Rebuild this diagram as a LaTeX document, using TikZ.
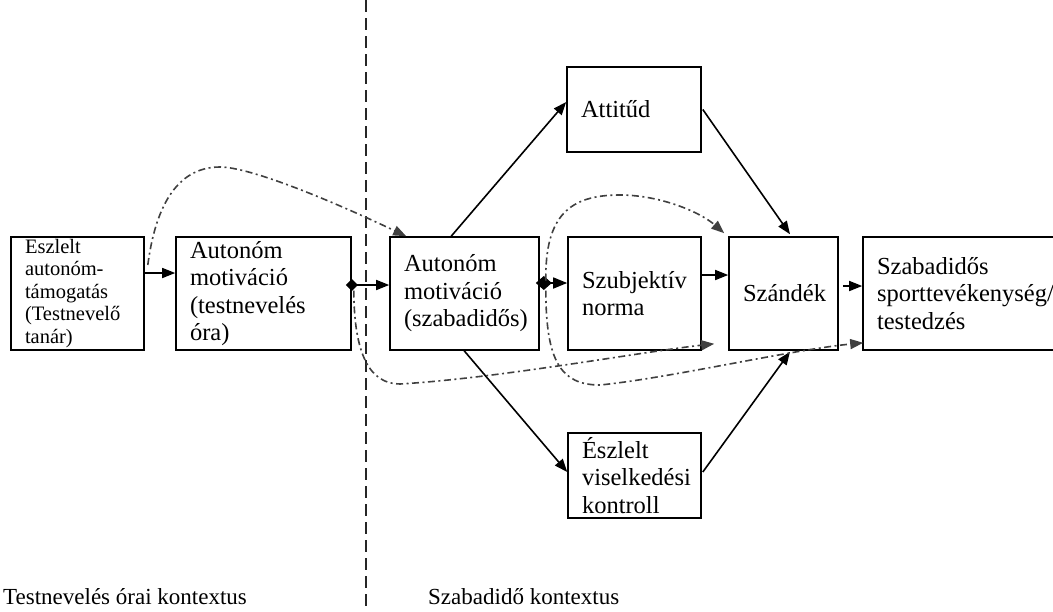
\documentclass[tikz,border=0pt]{standalone}
\usepackage{fontspec}
\setmainfont{Liberation Serif}
\usetikzlibrary{arrows.meta,calc}
\begin{document}
\begin{tikzpicture}[x=1pt,y=-1pt,
  box/.style={draw, line width=1.6pt, inner xsep=14pt, inner ysep=0pt, align=left,
              font=\fontsize{24.5}{27.5}\selectfont},
  smallbox/.style={box, font=\fontsize{20.5}{22.5}\selectfont},
  solidarr/.style={line width=1.6pt, -{Triangle[length=13pt,width=10pt]}},
  dashdot/.style={line width=1.6pt, black!75, dash pattern=on 7pt off 3.5pt on 2pt off 3.5pt,
                  -{Triangle[length=13pt,width=10pt]}},
  diamarr/.style={line width=1.6pt, arrows={Diamond[length=12pt,width=12pt]-Triangle[length=13pt,width=10pt]}},
  bigdiamarr/.style={line width=1.6pt, arrows={Diamond[length=16pt,width=14pt]-Triangle[length=14pt,width=11pt]}},
  ctx/.style={font=\fontsize{23}{27}\selectfont, anchor=base west, inner sep=0pt}
]
\clip (0,0) rectangle (1053,611);
\fill[white] (0,0) rectangle (1053,611);

% context divider
\draw[black!85, line width=1.6pt, dash pattern=on 12pt off 6pt] (366,0) -- (366,611);

% boxes
\node[smallbox, text width=105pt, minimum height=113pt] (b1) at (77.5,293.5)
  {Eszlelt\\autonóm-\\támogatás\\(Testnevelő\\tanár)};
\node[box, text width=147pt, minimum height=113pt] (b2) at (263.5,293.5)
  {Autonóm\\motiváció\\(testnevelés\\óra)};
\node[box, text width=121pt, minimum height=113pt] (b3) at (464.5,293.5)
  {Autonóm\\motiváció\\(szabadidős)};
\node[box, text width=105pt, minimum height=113pt] (b4) at (634.5,293.5)
  {Szubjektív\\norma};
\node[box, align=center, text width=81pt, minimum height=113pt] (b5) at (783.5,293.5)
  {Szándék};
\node[box, text width=179pt, minimum height=113pt] (b6) at (966.5,293.5)
  {Szabadidős\\sporttevékenység/\\testedzés};
\node[box, text width=106pt, minimum height=85pt] (att) at (634,109.5)
  {Attitűd};
\node[box, text width=105pt, minimum height=85pt] (pbc) at (634.5,475.5)
  {Észlelt\\viselkedési\\kontroll};

% main chain
\draw[solidarr] ($(b1.east)+(0,-20.5)$) -- ($(b2.west)+(0,-20.5)$);
\draw[diamarr] ($(b2.east)+(-6,-8.5)$) -- ($(b3.west)+(0,-8.5)$);
\draw[bigdiamarr] ($(b3.east)+(-4,-10.5)$) -- ($(b4.west)+(0,-10.5)$);
\draw[solidarr] ($(b4.east)+(0,-18.5)$) -- ($(b5.west)+(0,-18.5)$);
\draw[solidarr] ($(b5.east)+(4,-7.5)$) -- ($(b6.west)+(0,-7.5)$);

% branches through attitude and perceived control
\draw[solidarr] ($(b3.north west)+(62,0)$) -- ($(att.west)+(0,-7.5)$);
\draw[solidarr] ($(att.east)+(1,0)$) -- ($(b5.north)+(6.5,-2)$);
\draw[solidarr] ($(b3.south west)+(75,0)$) -- ($(pbc.west)+(0,-3.5)$);
\draw[solidarr] ($(pbc.east)+(1,-3.5)$) -- ($(b5.south)+(6.5,1)$);

% indirect paths
\draw[dashdot] ($(b1.east)+(3,-28.5)$) .. controls (155,210) and (175,167) .. (220,167)
  .. controls (250,167) and (330,200) .. ($(b3.north west)+(17,0)$);
\draw[dashdot] ($(b3.east)+(6,-13)$) .. controls (545,215) and (570,195) .. (620,195)
  .. controls (660,195) and (700,212) .. ($(b5.north west)+(-4,-3)$);
\draw[dashdot] ($(b2.east)+(2,-3)$) .. controls (354,355) and (370,384) .. (400,384)
  .. controls (500,378) and (640,352) .. ($(b5.south west)+(-14,-7)$);
\draw[dashdot] ($(b3.east)+(6,-3)$) .. controls (546,360) and (560,385) .. (600,385)
  .. controls (670,378) and (790,350) .. ($(b6.south west)+(1,-8)$);

% context labels
\node[ctx] (lpe) at (3,604) {Testnevelés órai kontextus};
\node[ctx] (lsz) at (428,604) {Szabadidő kontextus};
\end{tikzpicture}
\end{document}
